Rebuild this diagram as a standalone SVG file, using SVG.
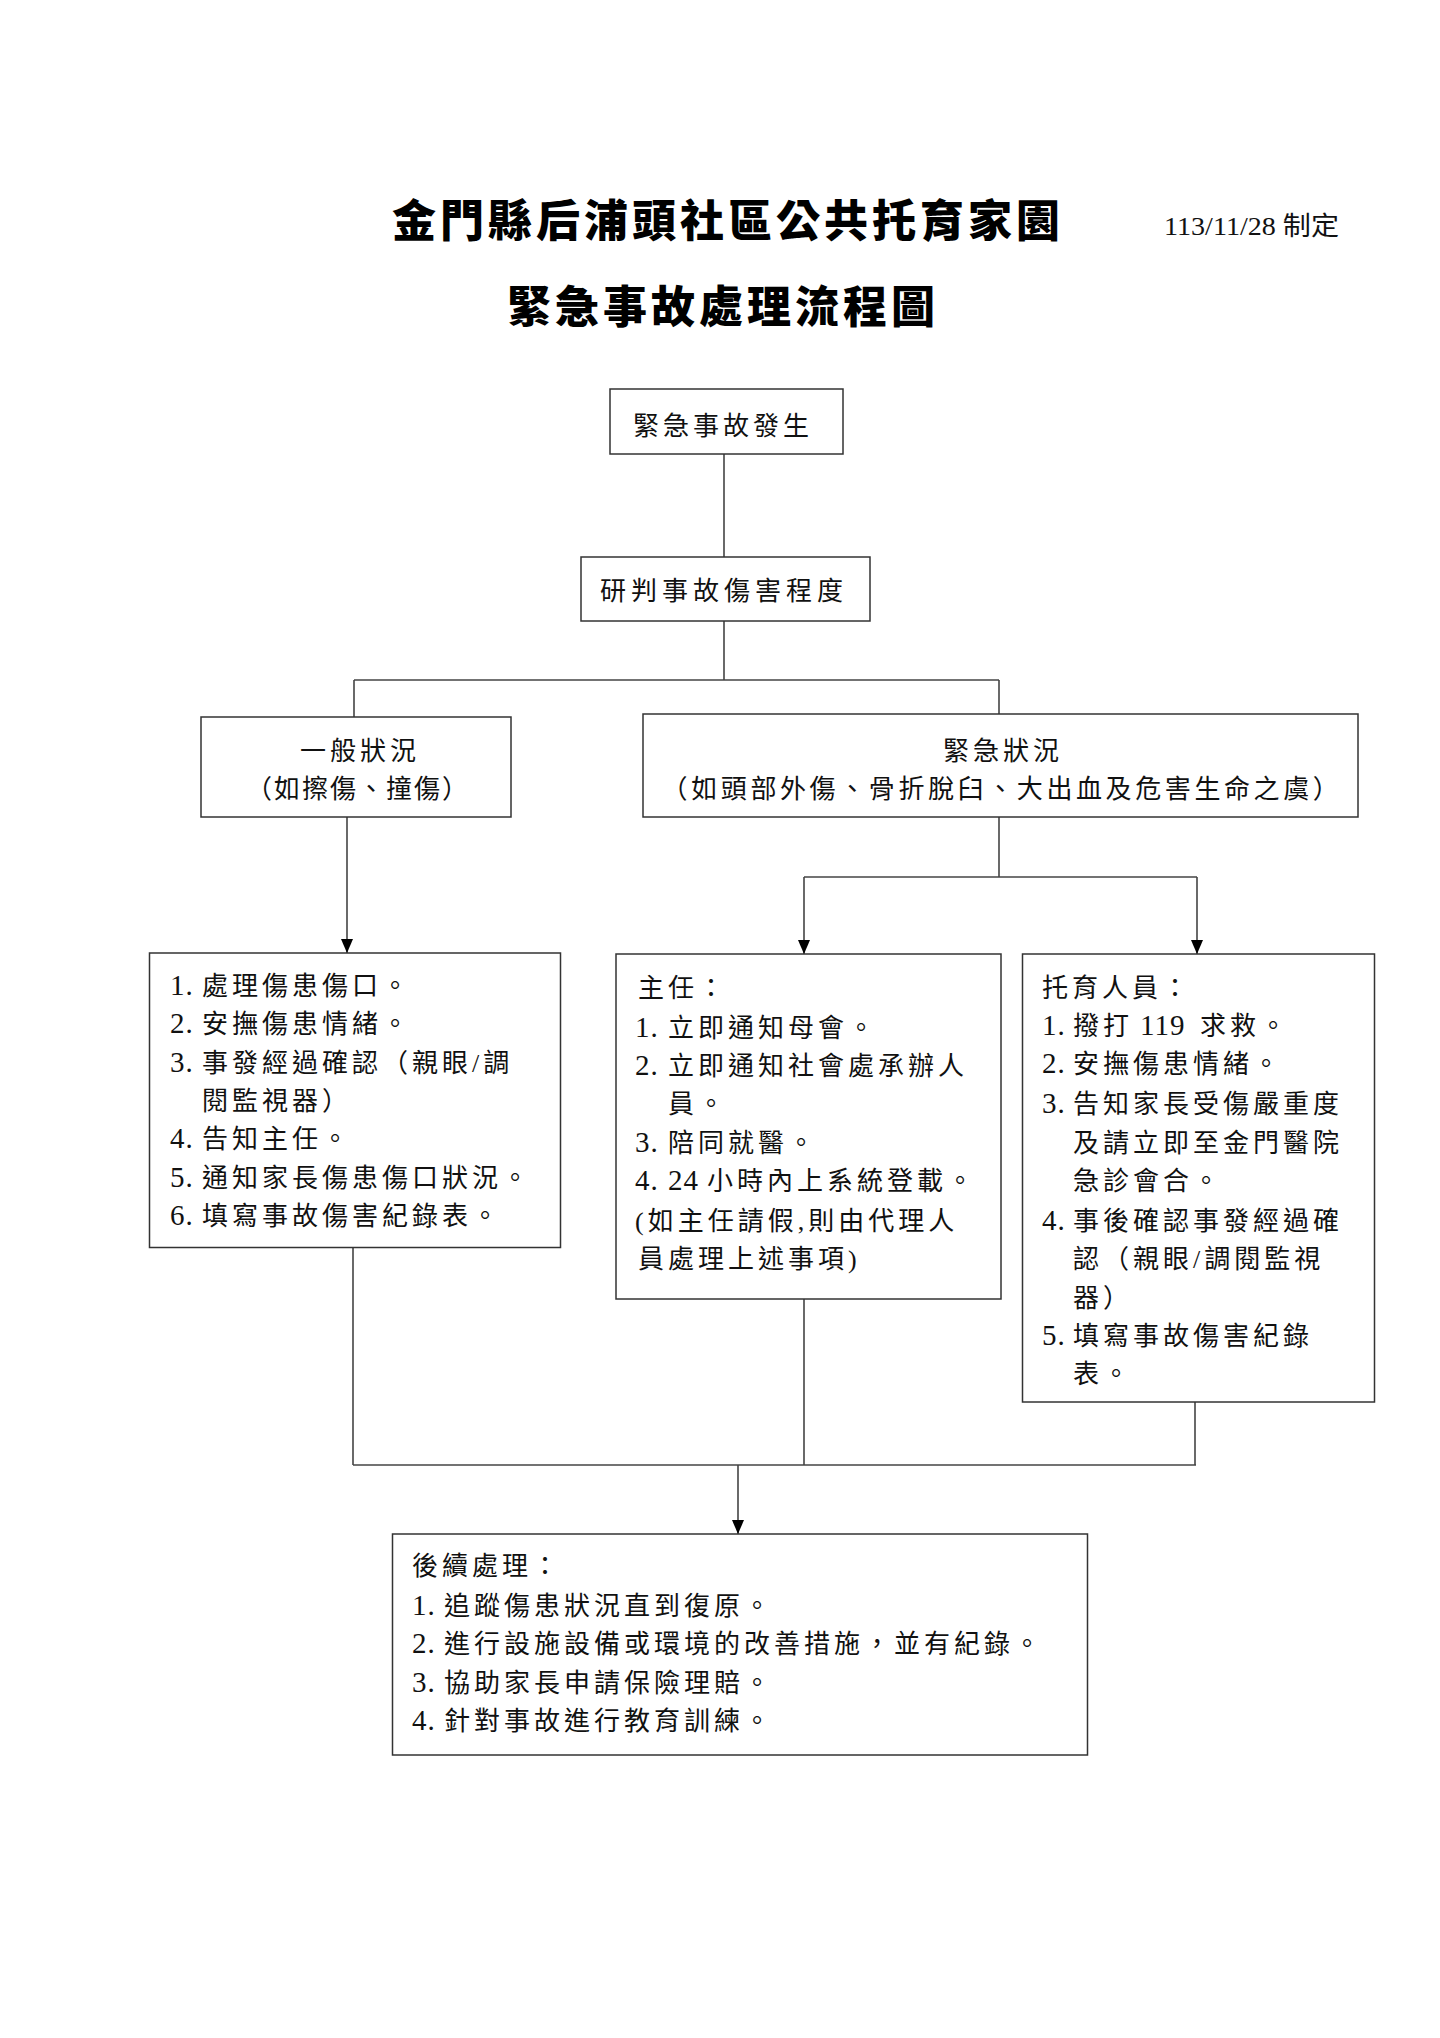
<svg xmlns="http://www.w3.org/2000/svg" width="1440" height="2038" viewBox="0 0 1440 2038">
<style>
.bg{fill:#fff}
.box{fill:#fff;stroke:#333;stroke-width:1.5}
.ln{fill:none;stroke:#444;stroke-width:1.6}
.t{font-family:"Liberation Serif","Noto Sans CJK TC",serif;font-size:26px;letter-spacing:4px;fill:#111}
.n{font-size:29px;letter-spacing:1px}
.ttl{font-family:"Noto Sans CJK TC","Noto Sans CJK SC",sans-serif;font-size:44px;font-weight:900;letter-spacing:4px;fill:#000}
.d{font-family:"Liberation Serif","Noto Sans CJK TC",serif;font-size:26px;fill:#111}
</style>
<defs>
<marker id="arr" viewBox="0 0 14 12" refX="14" refY="6" markerWidth="14" markerHeight="12" markerUnits="userSpaceOnUse" orient="auto">
<path d="M0,0 L14,6 L0,12 z" fill="#000"/>
</marker>
</defs>
<rect class="bg" x="0" y="0" width="1440" height="2038"/>

<g id="title">
<text class="ttl" x="392" y="237">金門縣后浦頭社區公共托育家園</text>
<text class="ttl" x="507" y="323">緊急事故處理流程圖</text>
<text class="d" x="1164" y="235" textLength="175" lengthAdjust="spacingAndGlyphs">113/11/28 制定</text>
</g>

<g id="connectors">
<line class="ln" x1="724" y1="454" x2="724" y2="557"/>
<line class="ln" x1="724" y1="621" x2="724" y2="680"/>
<line class="ln" x1="354" y1="680" x2="999" y2="680"/>
<line class="ln" x1="354" y1="680" x2="354" y2="717"/>
<line class="ln" x1="999" y1="680" x2="999" y2="714"/>
<line class="ln" x1="347" y1="817" x2="347" y2="953" marker-end="url(#arr)"/>
<line class="ln" x1="999" y1="817" x2="999" y2="877"/>
<line class="ln" x1="804" y1="877" x2="1197" y2="877"/>
<line class="ln" x1="804" y1="877" x2="804" y2="954" marker-end="url(#arr)"/>
<line class="ln" x1="1197" y1="877" x2="1197" y2="954" marker-end="url(#arr)"/>
<line class="ln" x1="353" y1="1248" x2="353" y2="1465"/>
<line class="ln" x1="804" y1="1299" x2="804" y2="1465"/>
<line class="ln" x1="1195" y1="1402" x2="1195" y2="1465"/>
<line class="ln" x1="353" y1="1465" x2="1196" y2="1465"/>
<line class="ln" x1="738" y1="1465" x2="738" y2="1534" marker-end="url(#arr)"/>
</g>

<g id="n1">
<rect class="box" x="610" y="389" width="233" height="65"/>
<text class="t" x="633" y="435">緊急事故發生</text>
</g>

<g id="n2">
<rect class="box" x="581" y="557" width="289" height="64"/>
<text class="t" x="600" y="600" style="letter-spacing:5px">研判事故傷害程度</text>
</g>

<g id="n3">
<rect class="box" x="201" y="717" width="310" height="100"/>
<text class="t" x="360" y="760" text-anchor="middle">一般狀況</text>
<text class="t" x="358" y="798" text-anchor="middle" style="letter-spacing:2px">（如擦傷、撞傷）</text>
</g>

<g id="n4">
<rect class="box" x="643" y="714" width="715" height="103"/>
<text class="t" x="1003" y="760" text-anchor="middle">緊急狀況</text>
<text class="t" x="1002" y="798" text-anchor="middle" style="letter-spacing:3.6px">（如頭部外傷、骨折脫臼、大出血及危害生命之虞）</text>
</g>

<g id="n5">
<rect class="box" x="149.5" y="953" width="411" height="294.5"/>
<text class="t" y="995"><tspan class="n" x="170">1.</tspan><tspan x="202">處理傷患傷口。</tspan></text>
<text class="t" y="1033"><tspan class="n" x="170">2.</tspan><tspan x="202">安撫傷患情緒。</tspan></text>
<text class="t" y="1072"><tspan class="n" x="170">3.</tspan><tspan x="202">事發經過確認（親眼/調</tspan></text>
<text class="t" y="1110"><tspan x="202">閱監視器）</tspan></text>
<text class="t" y="1148"><tspan class="n" x="170">4.</tspan><tspan x="202">告知主任。</tspan></text>
<text class="t" y="1187"><tspan class="n" x="170">5.</tspan><tspan x="202">通知家長傷患傷口狀況。</tspan></text>
<text class="t" y="1225"><tspan class="n" x="170">6.</tspan><tspan x="202">填寫事故傷害紀錄表。</tspan></text>
</g>

<g id="n6">
<rect class="box" x="616" y="954" width="385" height="345"/>
<text class="t" x="638" y="997">主任：</text>
<text class="t" y="1037"><tspan class="n" x="635">1.</tspan><tspan x="668">立即通知母會。</tspan></text>
<text class="t" y="1075"><tspan class="n" x="635">2.</tspan><tspan x="668">立即通知社會處承辦人</tspan></text>
<text class="t" y="1113"><tspan x="668">員。</tspan></text>
<text class="t" y="1152"><tspan class="n" x="635">3.</tspan><tspan x="668">陪同就醫。</tspan></text>
<text class="t" y="1190"><tspan class="n" x="635">4.</tspan><tspan class="n" x="668">24</tspan><tspan x="707">小時內上系統登載。</tspan></text>
<text class="t" x="635" y="1230">(如主任請假,則由代理人</text>
<text class="t" x="638" y="1268">員處理上述事項)</text>
</g>

<g id="n7">
<rect class="box" x="1022.5" y="954" width="352" height="448"/>
<text class="t" x="1042" y="997">托育人員：</text>
<text class="t" y="1035"><tspan class="n" x="1042">1.</tspan><tspan x="1073">撥打</tspan><tspan class="n" x="1140">119</tspan><tspan x="1200">求救。</tspan></text>
<text class="t" y="1073"><tspan class="n" x="1042">2.</tspan><tspan x="1073">安撫傷患情緒。</tspan></text>
<text class="t" y="1113"><tspan class="n" x="1042">3.</tspan><tspan x="1073">告知家長受傷嚴重度</tspan></text>
<text class="t" y="1152"><tspan x="1073">及請立即至金門醫院</tspan></text>
<text class="t" y="1190"><tspan x="1073">急診會合。</tspan></text>
<text class="t" y="1230"><tspan class="n" x="1042">4.</tspan><tspan x="1073">事後確認事發經過確</tspan></text>
<text class="t" y="1268"><tspan x="1073">認（親眼/調閱監視</tspan></text>
<text class="t" y="1307"><tspan x="1073">器）</tspan></text>
<text class="t" y="1345"><tspan class="n" x="1042">5.</tspan><tspan x="1073">填寫事故傷害紀錄</tspan></text>
<text class="t" y="1383"><tspan x="1073">表。</tspan></text>
</g>

<g id="n8">
<rect class="box" x="392.5" y="1534" width="695" height="221"/>
<text class="t" x="412" y="1575">後續處理：</text>
<text class="t" y="1615"><tspan class="n" x="412">1.</tspan><tspan x="444">追蹤傷患狀況直到復原。</tspan></text>
<text class="t" y="1653"><tspan class="n" x="412">2.</tspan><tspan x="444">進行設施設備或環境的改善措施，並有紀錄。</tspan></text>
<text class="t" y="1692"><tspan class="n" x="412">3.</tspan><tspan x="444">協助家長申請保險理賠。</tspan></text>
<text class="t" y="1730"><tspan class="n" x="412">4.</tspan><tspan x="444">針對事故進行教育訓練。</tspan></text>
</g>
</svg>
